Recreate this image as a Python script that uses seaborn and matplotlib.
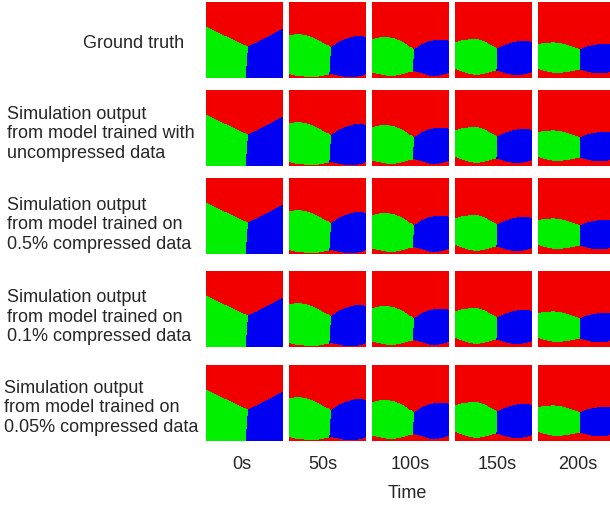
import numpy as np
import pandas as pd
import seaborn as sns
import matplotlib.pyplot as plt
from matplotlib.colors import ListedColormap

# column / row labels
times = ["0s", "50s", "100s", "150s", "200s"]
row_labels = [
    "Ground truth",
    "Simulation output\nfrom model trained with\nuncompressed data",
    "Simulation output\nfrom model trained on\n0.5% compressed data",
    "Simulation output\nfrom model trained on\n0.1% compressed data",
    "Simulation output\nfrom model trained on\n0.05% compressed data",
]

# phase boundaries (fractions of panel width / height, y from top)
# x positions where the boundaries were read, 0.54 is the triple junction
boundary_x = [0.0, 0.1, 0.2, 0.3, 0.4, 0.54, 0.65, 0.75, 0.85, 0.95, 1.0]
# upper edge of green / blue grains (red above)
top_0s = [0.326, 0.373, 0.421, 0.468, 0.516, 0.587, 0.534, 0.481, 0.428, 0.375, 0.348]
top_50s = [0.44, 0.42, 0.43, 0.46, 0.51, 0.59, 0.52, 0.48, 0.45, 0.45, 0.46]
top_100s = [0.49, 0.465, 0.46, 0.48, 0.52, 0.62, 0.55, 0.51, 0.50, 0.50, 0.51]
top_150s = [0.53, 0.50, 0.49, 0.49, 0.52, 0.61, 0.56, 0.53, 0.51, 0.51, 0.53]
top_200s = [0.55, 0.54, 0.53, 0.54, 0.57, 0.62, 0.58, 0.56, 0.55, 0.55, 0.56]
# lower edge of green / blue grains (red below)
bottom_0s = [1.01, 1.01, 1.01, 1.01, 1.01, 1.01, 1.01, 1.01, 1.01, 1.01, 1.01]
bottom_50s = [0.95, 0.97, 0.98, 0.99, 0.98, 0.95, 0.97, 0.99, 0.99, 0.97, 0.95]
bottom_100s = [0.93, 0.95, 0.97, 0.97, 0.95, 0.91, 0.94, 0.97, 0.97, 0.95, 0.93]
bottom_150s = [0.88, 0.92, 0.95, 0.96, 0.94, 0.90, 0.94, 0.96, 0.96, 0.94, 0.92]
bottom_200s = [0.88, 0.91, 0.93, 0.93, 0.92, 0.89, 0.92, 0.94, 0.94, 0.92, 0.90]
# x where the green/blue boundary meets the bottom
split_bottom = [0.507, 0.515, 0.52, 0.53, 0.53]

tops = [top_0s, top_50s, top_100s, top_150s, top_200s]
bottoms = [bottom_0s, bottom_50s, bottom_100s, bottom_150s, bottom_200s]

# 0 = red, 1 = green, 2 = blue
phase_cmap = ListedColormap(["#f20000", "#00f000", "#0000f2"])
n_cells = 76


def phase_grid(top, bottom, split_x):
    c = (np.arange(n_cells) + 0.5) / n_cells
    xx, yy = np.meshgrid(c, c)
    y_top = np.interp(xx, boundary_x, top)
    y_bot = np.interp(xx, boundary_x, bottom)
    j_x = boundary_x[5]
    j_y = top[5]
    # green/blue boundary is a straight line from the junction down to the bottom
    x_split = j_x + (split_x - j_x) * (yy - j_y) / (1.0 - j_y)
    grid = np.where(xx < x_split, 1, 2)
    grid = np.where((yy < y_top) | (yy > y_bot), 0, grid)
    return pd.DataFrame(grid)


sns.set_theme(style="white")
plt.rcParams["font.family"] = ["Liberation Sans", "DejaVu Sans"]

W, H = 610, 506
fig = plt.figure(figsize=(W / 100, H / 100), dpi=100)

col_left = [206, 289, 372, 455, 538]
row_top = [3, 91, 179, 272, 366]
panel_w, panel_h = 77, 76

for r in range(len(row_labels)):
    for c in range(len(times)):
        ax = fig.add_axes([col_left[c] / W, 1 - (row_top[r] + panel_h) / H, panel_w / W, panel_h / H])
        sns.heatmap(phase_grid(tops[c], bottoms[c], split_bottom[c]), cmap=phase_cmap,
                    vmin=-0.5, vmax=2.5, cbar=False, xticklabels=False, yticklabels=False, ax=ax)
        ax.set_xlabel("")
        ax.set_ylabel("")

# row labels
fig.text(134 / W, 1 - 43 / H, row_labels[0], ha="center", va="center", fontsize=13)
label_y = [134, 225, 317, 408]
label_x = [7, 7, 7, 4]
for i in range(1, len(row_labels)):
    fig.text(label_x[i - 1] / W, 1 - label_y[i - 1] / H, row_labels[i], ha="left", va="center",
             fontsize=13, linespacing=1.2)

# time labels
time_x = [242, 323, 410, 497, 578]
for t, x in zip(times, time_x):
    fig.text(x / W, 1 - 465 / H, t, ha="center", va="center", fontsize=13)
fig.text(407 / W, 1 - 494 / H, "Time", ha="center", va="center", fontsize=13)

fig.savefig("out.png", dpi=100)
